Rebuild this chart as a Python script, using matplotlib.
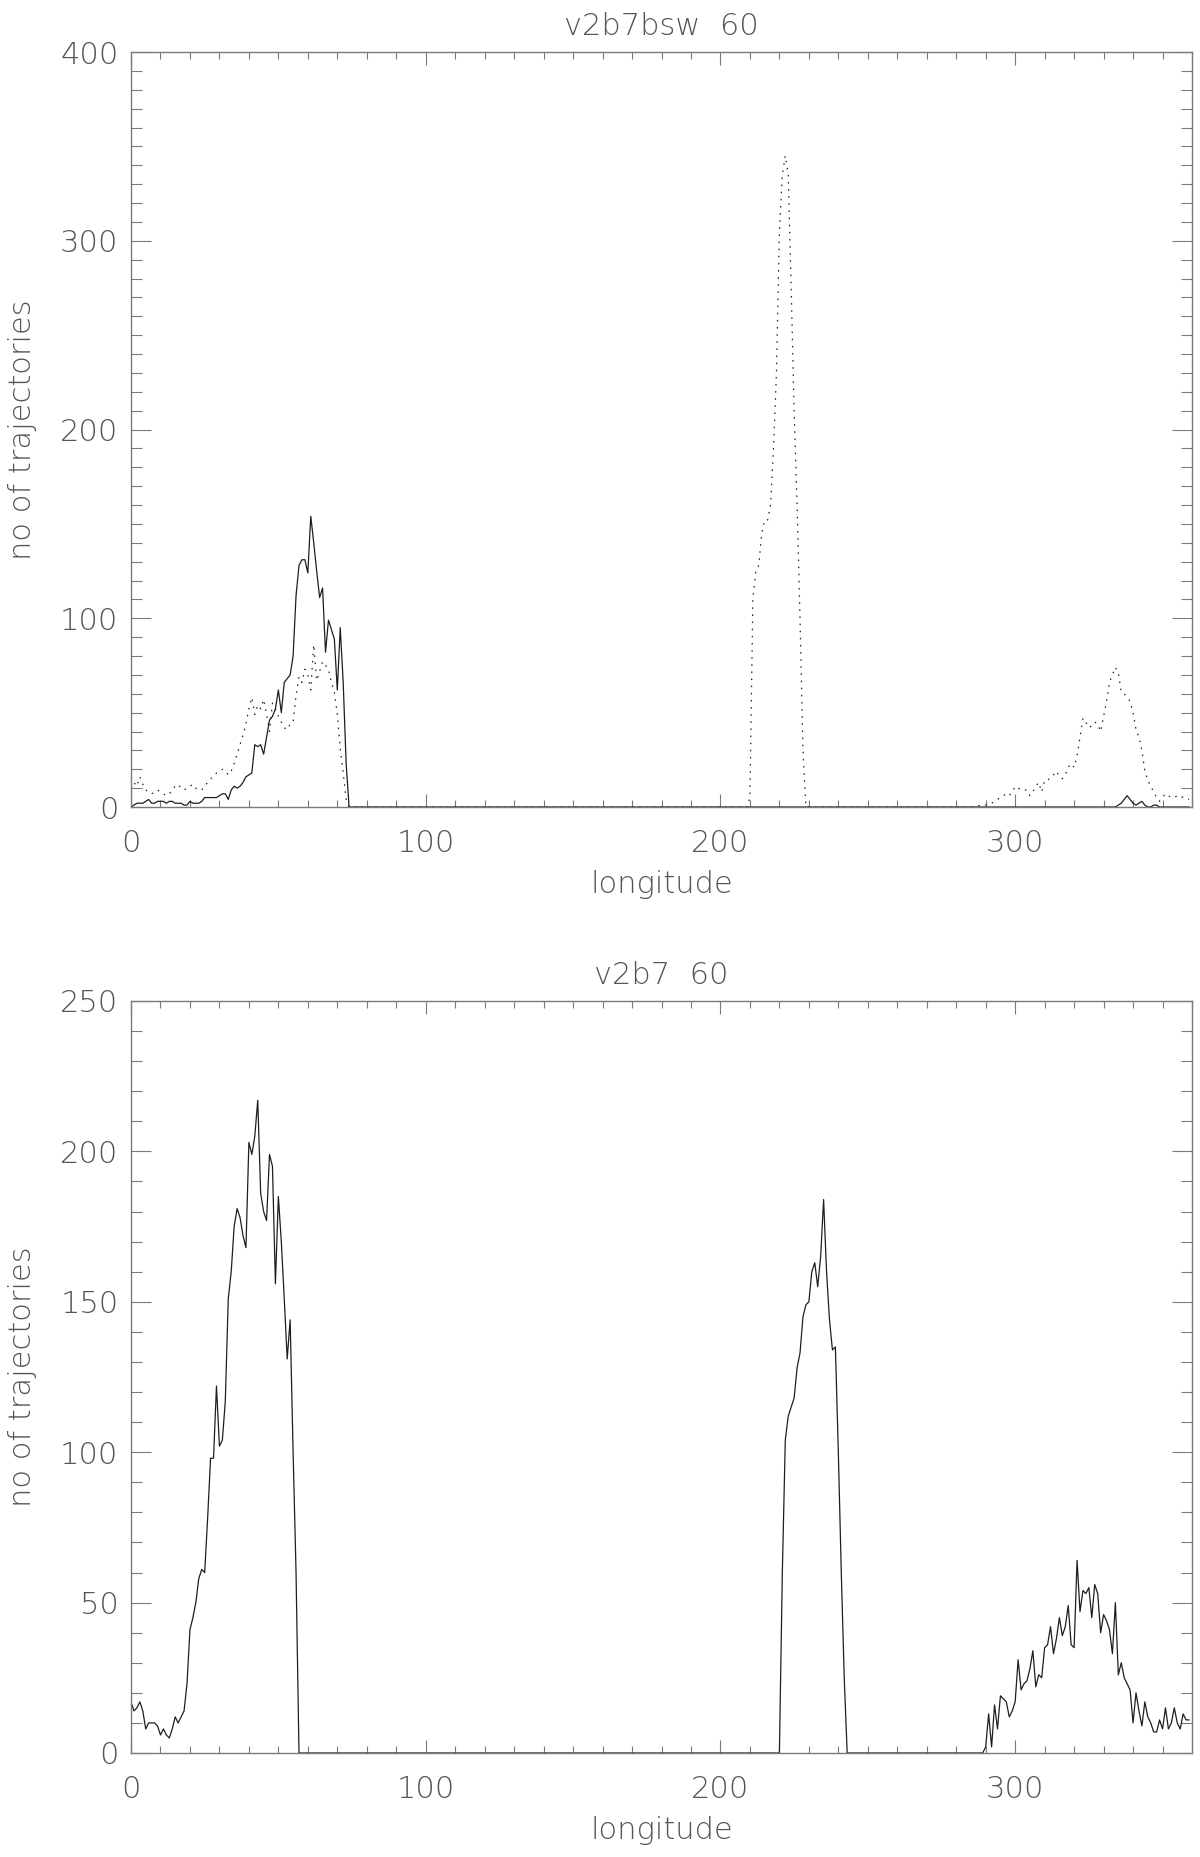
import numpy as np
import matplotlib
matplotlib.use("Agg")
import matplotlib.pyplot as plt
from matplotlib.ticker import MultipleLocator

plt.rcParams['font.family'] = ['DejaVu Sans']
plt.rcParams['font.weight'] = 'light'
plt.rcParams['axes.titleweight'] = 'light'
plt.rcParams['axes.labelweight'] = 'light'

lon = np.arange(0, 360)

# v2b7bsw 60 - solid line
top_solid_a = [0,1,2,2,2,3,4,2,2,3,3,3,2,3,3,2,2,2,1,1,3,2,2,2,3,5,5,5,5,5,6,7,7,4,9,11,10,11,13,16,
               17,18,33,32,33,28,37,46,48,52,62,50,66,68,70,80,112,128,131,131,124,154,140,125,111,116,82,99,94,89,62,95,66,23,0]
top_solid_b = [0,0,1,2,4,6,4,2,1,2,3,1,0,0,1,1,0]
# v2b7bsw 60 - dotted line
top_dot_a = [10,13,11,16,12,9,8,7,8,9, 8,7,6,7,9,11,12,10,9,10, 11,12,10,9,9,11,13,15,16,18,
             19,20,19,17,19,23,28,33,38,44, 52,58,49,54,52,57,49,40,55,52, 48,45,42,41,44,45,59,69,66,73,
             70,62,86,67,72,77,75,73,66,61, 49,31,18,4,0]
top_dot_b = [0,5,110,125,128,145,152,152,160,190,230,305,335,345,335,275,210,160,100,30,0]
top_dot_c = [0,1,1,1,2,2,3,4,5,6, 7,6,8,11,10,9,9,9,6,8, 11,13,8,14,14,16,17,19,16,15,
             17,21,23,21,27,37,47,45,42,43, 45,44,40,48,56,66,70,74,71,61, 60,58,56,50,41,37,30,19,14,11,
             8,5,3,5,7,6,5,5,6,6, 5,5,4]
# v2b7 60
bot_a = [17,14,15,17,14,8,10,10,10,9, 6,8,6,5,8,12,10,12,14,23, 41,45,50,58,61,60,78,98,98,122,
         102,104,117,151,160,175,181,178,172,168, 203,199,205,217,186,180,177,199,195,156,
         185,170,151,131,144,100,60,0]
bot_b = [0,60,104,112,115,118,128,133,145,149, 150,160,163,155,165,184,160,144,134,135, 100,60,25,0]
bot_c = [0,0,2,13,2,16,8,19,18,17, 12,14,17,31,21,23,24,28,34,22, 26,25,35,36,42,33,38,45,39,42,
         49,36,35,64,47,54,53,55,45,56, 53,40,46,44,41,33,50,26,30,25, 23,21,10,20,14,9,17,12,10,7,
         7,11,8,15,8,10,15,10,8,13, 11,11]


def build(segments):
    y = np.zeros(len(lon))
    for start, vals in segments:
        y[start:start + len(vals)] = vals
    return y


top_solid = build([(0, top_solid_a), (333, top_solid_b)])
top_dot = build([(0, top_dot_a), (209, top_dot_b), (287, top_dot_c)])
bottom = build([(0, bot_a), (220, bot_b), (288, bot_c)])

W, H = 1200, 1857
fig = plt.figure(figsize=(W / 100, H / 100), dpi=100)

axcol = '#7a7a7a'
txtcol = '#555555'
linecol = '#1e1e1e'
fs = 22


def style(ax, ytop, ymaj, title):
    ax.set_xlim(0, 360)
    ax.set_ylim(0, ytop)
    ax.xaxis.set_major_locator(MultipleLocator(100))
    ax.xaxis.set_minor_locator(MultipleLocator(10))
    ax.yaxis.set_major_locator(MultipleLocator(ymaj))
    ax.yaxis.set_minor_locator(MultipleLocator(10))
    for s in ax.spines.values():
        s.set_color(axcol)
        s.set_linewidth(1.0)
    ax.tick_params(axis='both', which='both', direction='in', top=True, right=True,
                   color=axcol, width=0.8, labelcolor=txtcol, labelsize=fs)
    ax.tick_params(axis='x', which='major', length=9.4, pad=16)
    ax.tick_params(axis='x', which='minor', length=5)
    ax.tick_params(axis='y', which='major', length=14.4, pad=9)
    ax.tick_params(axis='y', which='minor', length=7.9)
    ax.set_title(title, fontsize=fs, color=txtcol, pad=12)
    ax.set_xlabel('longitude', fontsize=fs, color=txtcol)
    ax.set_ylabel('no of trajectories', fontsize=fs, color=txtcol)
    ax.xaxis.set_label_coords(0.5, -0.084)
    ax.yaxis.set_label_coords(-0.089, 0.5)


ax1 = fig.add_axes([131 / W, 1 - 807 / H, 1061 / W, 755 / H])
ax1.plot(lon, top_solid, color=linecol, lw=0.9)
ax1.plot(lon, top_dot, color=linecol, lw=0.9, linestyle=(0, (1.2, 4.5)))
style(ax1, 400, 100, 'v2b7bsw  60')

ax2 = fig.add_axes([131 / W, 1 - 1753 / H, 1061 / W, 752 / H])
ax2.plot(lon, bottom, color=linecol, lw=0.9)
style(ax2, 250, 50, 'v2b7  60')

fig.savefig('out.png', dpi=100)
